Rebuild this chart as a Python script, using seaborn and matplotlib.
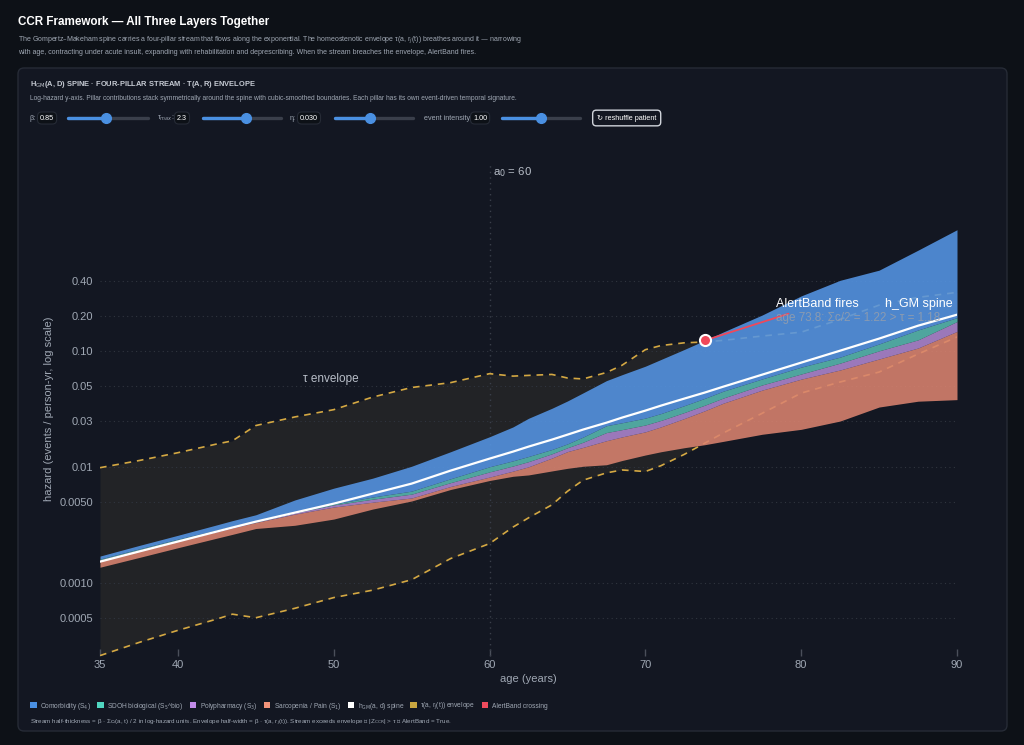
import numpy as np
import pandas as pd
import matplotlib
matplotlib.use("Agg")
import matplotlib.pyplot as plt
import seaborn as sns
from matplotlib.patches import FancyBboxPatch, Patch
from matplotlib.lines import Line2D
from matplotlib.transforms import IdentityTransform
from matplotlib.ticker import NullLocator

# ages sampled along the stream (years)
ages = [35, 37.5, 40, 42.5, 43.5, 45, 47.5, 50, 52.5, 55, 57.5, 60, 61.5, 62.5, 64,
        65, 66, 67.5, 68.5, 70, 71, 72.5, 73.8, 75, 77.5, 80, 82.5, 85, 87.5, 90]

# Gompertz-Makeham spine hazard (events / person-yr)
spine = [0.00153, 0.00187, 0.00228, 0.00278, 0.00301, 0.00338, 0.00404, 0.00483, 0.00589,
         0.00718, 0.00929, 0.01178, 0.01353, 0.01494, 0.01716, 0.01894, 0.02094, 0.0240,
         0.02654, 0.0305, 0.03366, 0.0387, 0.04356, 0.0490, 0.0622, 0.0789, 0.100, 0.127,
         0.164, 0.204]

# homeostenotic envelope tau(a, r_j(t)) in log-hazard units
tau = [2.19, 2.12, 2.07, 2.04, 2.02, 2.24, 2.23, 2.19, 2.25, 2.24, 2.05, 1.98, 1.76, 1.66,
       1.52, 1.32, 1.18, 1.17, 1.22, 1.42, 1.40, 1.30, 1.18, 1.08, 0.90, 0.71, 0.73, 0.78,
       0.66, 0.52]

# pillar contributions c_i(a, t)
c_comorb = [0.07, 0.08, 0.09, 0.12, 0.13, 0.15, 0.28, 0.37, 0.44, 0.58, 0.63, 0.70, 0.79,
            0.89, 0.96, 1.00, 1.03, 1.05, 1.12, 1.21, 1.26, 1.31, 1.35, 1.38, 1.49, 1.66,
            1.79, 1.72, 1.86, 2.05]
c_sdoh = [0.02, 0.02, 0.02, 0.02, 0.02, 0.02, 0.02, 0.02, 0.05, 0.07, 0.09, 0.12, 0.12,
          0.12, 0.10, 0.09, 0.12, 0.16, 0.16, 0.16, 0.16, 0.16, 0.16, 0.16, 0.14, 0.16,
          0.14, 0.16, 0.23, 0.09]
c_poly = [0.02, 0.02, 0.02, 0.02, 0.02, 0.01, 0.03, 0.05, 0.07, 0.09, 0.09, 0.12, 0.12,
          0.12, 0.10, 0.09, 0.12, 0.19, 0.17, 0.16, 0.15, 0.14, 0.13, 0.12, 0.12, 0.12,
          0.16, 0.19, 0.19, 0.23]
c_sarc = [0.15, 0.16, 0.16, 0.15, 0.15, 0.14, 0.26, 0.28, 0.16, 0.07, 0.07, 0.08, 0.12,
          0.19, 0.30, 0.39, 0.44, 0.56, 0.55, 0.54, 0.58, 0.68, 0.79, 0.89, 1.03, 1.17,
          1.19, 1.12, 1.24, 1.59]

beta = 0.85
a0 = 60
alert_age = 73.8

ytick_vals = [0.0005, 0.001, 0.005, 0.01, 0.025, 0.05, 0.1, 0.2, 0.4]
ytick_labels = ["0.0005", "0.0010", "0.0050", "0.01", "0.03", "0.05", "0.10", "0.20", "0.40"]
xticks = [35, 40, 50, 60, 70, 80, 90]

BG = "#0d1117"
CARD = "#131722"
TXT = "#a0a8b4"
ENV_FILL = "#222326"
GOLD = "#d4a843"
RED = "#f0485a"
stream_cols = ["#dc8470", "#ae86d1", "#57b9b1", "#5596e6"]  # sarc, poly, sdoh, comorb
legend_cols = ["#4a90e2", "#50d6c0", "#c08ae8", "#f0937a", "#ffffff", "#c9a640", "#ef4b5d"]

sns.set_theme(style="dark", rc={"axes.facecolor": CARD, "figure.facecolor": BG})
plt.rcParams["font.family"] = ["Liberation Sans", "DejaVu Sans"]

df = pd.DataFrame({"age": ages, "spine": spine, "tau": tau, "comorb": c_comorb,
                   "sdoh": c_sdoh, "poly": c_poly, "sarc": c_sarc})
logs = np.log(df["spine"])
total = df[["comorb", "sdoh", "poly", "sarc"]].sum(axis=1)
b0 = logs - beta * total / 2
b1 = b0 + beta * df["sarc"]
b2 = b1 + beta * df["poly"]
b3 = b2 + beta * df["sdoh"]
b4 = b3 + beta * df["comorb"]
df["env_hi"] = df["spine"] * np.exp(beta * df["tau"])
df["env_lo"] = df["spine"] * np.exp(-beta * df["tau"])

W, H = 1024, 745
fig = plt.figure(figsize=(W / 100, H / 100), dpi=100)


def fx(x):
    return x / W


def fy(y):
    return 1 - y / H


# header
fig.text(fx(18), fy(22), "CCR Framework — All Three Layers Together", color="white",
         fontsize=8.4, fontweight="bold", va="center")
fig.text(fx(18), fy(40), "The Gompertz–Makeham spine carries a four-pillar stream that flows along the "
         "exponential. The homeostenotic envelope τ(a, r$_j$(t)) breathes around it — narrowing",
         color=TXT, fontsize=5.0, va="center")
fig.text(fx(18), fy(52), "with age, contracting under acute insult, expanding with rehabilitation and "
         "deprescribing. When the stream breaches the envelope, AlertBand fires.",
         color=TXT, fontsize=5.0, va="center")

card = FancyBboxPatch((18, H - 731), 989, 663, boxstyle="round,pad=0,rounding_size=6",
                      fc=CARD, ec="#262b36", lw=1, transform=IdentityTransform(), zorder=-10)
fig.add_artist(card)

fig.text(fx(30), fy(84), r"H$_{\mathrm{GM}}$(A, D) SPINE · FOUR-PILLAR STREAM · T(A, R) ENVELOPE",
         color="#c5cad3", fontsize=5.4, fontweight="bold", va="center")
fig.text(fx(30), fy(99), "Log-hazard y-axis. Pillar contributions stack symmetrically around the spine "
         "with cubic-smoothed boundaries. Each pillar has its own event-driven temporal signature.",
         color=TXT, fontsize=4.8, va="center")

# control row
box = dict(boxstyle="round,pad=0.35,rounding_size=0.6", fc=BG, ec="#262b36", lw=0.8)
controls = [("β:", 30, "0.85", 40, 68, 148, 106),
            (r"τ$_{max}$:", 157, "2.3", 177, 203, 281, 246),
            ("η:", 290, "0.030", 300, 335, 413, 370),
            ("event intensity:", 424, "1.00", 473, 502, 580, 541)]
for lab, lx, val, vx, s0, s1, knob in controls:
    fig.text(fx(lx), fy(118), lab, color=TXT, fontsize=5.2, va="center")
    fig.text(fx(vx), fy(118), val, color="white", fontsize=5.2, va="center", bbox=box)
    fig.add_artist(Line2D([fx(s0), fx(s1)], [fy(118)] * 2, color="#3a3f4b", lw=2.4,
                          solid_capstyle="round"))
    fig.add_artist(Line2D([fx(s0), fx(knob)], [fy(118)] * 2, color="#4a90e2", lw=2.4,
                          solid_capstyle="round"))
    fig.add_artist(Line2D([fx(knob)], [fy(118)], marker="o", ms=7, color="#4a90e2", mec="#4a90e2"))
fig.text(fx(597), fy(118), "↻ reshuffle patient", color="white", fontsize=5.2, va="center",
         bbox=dict(boxstyle="round,pad=0.6,rounding_size=0.5", fc=CARD, ec="#d0d4db", lw=1))

# main axes
ax = fig.add_axes([fx(100), 89 / H, 857 / W, 494 / H])
ax.set_facecolor("none")
ax.set_yscale("log")
ax.set_xlim(35, 90)
ax.set_ylim(0.000236, 4.2)

ax.fill_between(df["age"], df["env_lo"], df["env_hi"], color=ENV_FILL, lw=0, zorder=0.3)
ax.set_axisbelow(True)
ax.grid(axis="y", ls=(0, (1, 3)), color="#30353f", lw=0.8)
ax.grid(axis="x", visible=False)
ax.axvline(a0, ls=(0, (1, 3)), color="#3a3f4a", lw=1, zorder=0.6)

sns.lineplot(data=df, x="age", y="env_hi", color=GOLD, lw=1.2, linestyle=(0, (4, 3.5)), ax=ax, zorder=1)
sns.lineplot(data=df, x="age", y="env_lo", color=GOLD, lw=1.2, linestyle=(0, (4, 3.5)), ax=ax, zorder=1)

layers = [b0, b1, b2, b3, b4]
for i, col in enumerate(stream_cols):
    ax.fill_between(df["age"], np.exp(layers[i]), np.exp(layers[i + 1]), color=col, alpha=0.87,
                    lw=0, zorder=2)

sns.lineplot(data=df, x="age", y="spine", color="white", lw=1.6, ax=ax, zorder=4)

# AlertBand crossing
i_al = ages.index(alert_age)
y_al = float(np.exp(b4[i_al]))
ax.annotate("AlertBand fires", xy=(alert_age, y_al), xytext=(78.4, 0.25), color="white",
            fontsize=9, va="center", ha="left", zorder=6,
            arrowprops=dict(arrowstyle="-", color=RED, lw=1.3, shrinkA=0, shrinkB=0))
ax.plot([alert_age], [y_al], marker="o", ms=8, color=RED, mec="white", mew=1.5, zorder=7)
ax.text(78.4, 0.19, "age 73.8: Σc/2 = 1.22 > τ = 1.18", color="#9aa0aa", alpha=0.8,
        fontsize=8.4, va="center", ha="left", zorder=6)
ax.text(89.7, 0.25, "h_GM spine", color="white", fontsize=9, va="center", ha="right", zorder=6)
ax.text(48.0, 0.0574, "τ envelope", color="#b8bec8", fontsize=8.5, va="center", ha="left")
ax.text(60.25, 3.45, r"a$_0$ = 60", color="#b8bec8", fontsize=8.2, va="center", ha="left")

ax.set_yticks(ytick_vals, ytick_labels)
ax.yaxis.set_minor_locator(NullLocator())
ax.set_xticks(xticks)
ax.tick_params(axis="y", length=0, colors=TXT, labelsize=8, pad=5)
ax.tick_params(axis="x", direction="in", length=5, width=1, color="#4a4f5a", labelcolor=TXT,
               labelsize=8, pad=3, bottom=True)
for s in ax.spines.values():
    s.set_visible(False)
ax.set_xlabel("age (years)", color=TXT, fontsize=8, labelpad=3)
ax.set_ylabel("hazard (events / person-yr, log scale)", color=TXT, fontsize=8, labelpad=4)

# legend
labels = ["Comorbidity (S$_4$)", "SDOH biological (S$_5$^bio)", "Polypharmacy (S$_3$)",
          "Sarcopenia / Pain (S$_1$)", r"h$_{\mathrm{GM}}$(a, d) spine", "τ(a, r$_j$(t)) envelope",
          "AlertBand crossing"]
handles = [Patch(fc=c, ec="none") for c in legend_cols]
fig.legend(handles, labels, loc="center left", bbox_to_anchor=(fx(24), fy(706)), ncol=7,
           frameon=False, fontsize=4.8, handlelength=1.0, handleheight=1.1, handletextpad=0.5,
           columnspacing=0.95, labelcolor=TXT)
fig.text(fx(30), fy(723), "Stream half-thickness = β · Σc$_i$(a, t) / 2 in log-hazard units. "
         "Envelope half-width = β · τ(a, r$_j$(t)). Stream exceeds envelope ⇒ |Z$_{\\mathrm{CCR}}$| > τ "
         "⇒ AlertBand = True.", color=TXT, fontsize=4.5, va="center")

fig.savefig("out.png", dpi=100, facecolor=BG)
